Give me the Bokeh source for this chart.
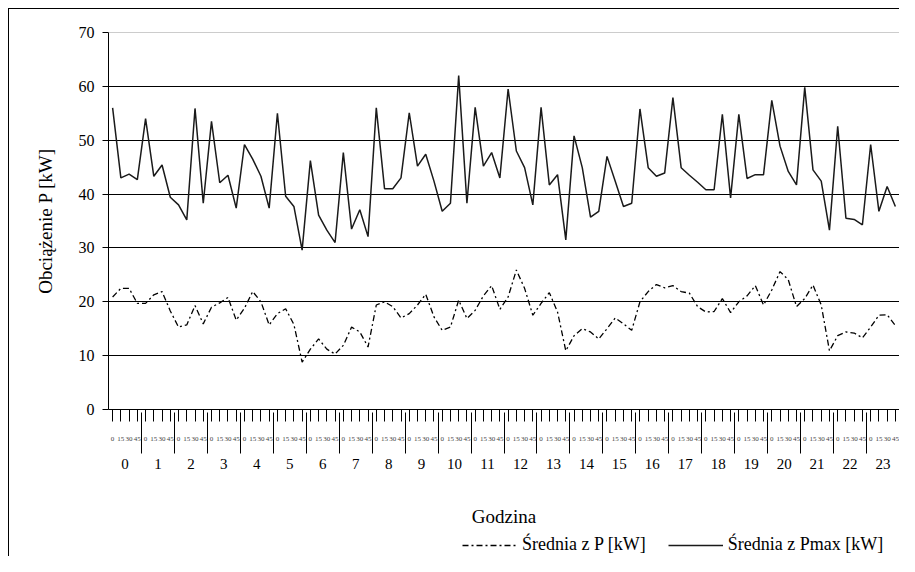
from bokeh.plotting import figure
from bokeh.layouts import column
from bokeh.models import (FactorRange, Range1d, Legend, LegendItem, FixedTicker,
                          Span, ColumnDataSource)
from bokeh.embed import file_html
from bokeh.resources import INLINE

# ---- data ----
hours = [str(h) for h in range(24)]
quarters = ["0", "15", "30", "45"]

pmax = [56.0, 43.0, 43.7, 42.7, 54.0, 43.3, 45.4, 39.4, 38.0, 35.2,
        55.9, 38.3, 53.5, 42.1, 43.5, 37.4, 49.2, 46.5, 43.3, 37.4,
        55.0, 39.6, 37.7, 29.6, 46.2, 36.1, 33.3, 31.0, 47.7, 33.5,
        37.1, 32.1, 56.0, 41.0, 41.0, 43.0, 55.1, 45.2, 47.4, 42.4,
        36.8, 38.3, 62.0, 38.3, 56.1, 45.2, 47.7, 43.0, 59.5, 48.0,
        44.9, 38.0, 56.1, 41.7, 43.6, 31.5, 50.8, 44.9, 35.7, 36.8,
        47.0, 42.4, 37.7, 38.3, 55.8, 44.9, 43.3, 43.9, 57.9, 44.9,
        43.5, 42.2, 40.8, 40.8, 54.8, 39.3, 54.8, 42.9, 43.6, 43.6,
        57.4, 48.9, 44.2, 41.7, 59.8, 44.5, 42.4, 33.3, 52.6, 35.5,
        35.3, 34.3, 49.2, 36.8, 41.4, 37.7]

p_avg = [20.9, 22.5, 22.5, 19.7, 19.7, 21.3, 21.9, 18.3, 15.3, 15.7,
         19.3, 15.9, 19.0, 19.8, 20.8, 16.6, 18.8, 21.9, 20.0, 15.7,
         17.8, 18.7, 15.8, 8.8, 11.2, 13.1, 11.2, 10.3, 11.9, 15.3,
         14.4, 11.6, 19.4, 20.0, 19.1, 17.0, 17.8, 19.4, 21.4, 17.2,
         14.7, 15.3, 20.3, 16.9, 18.4, 21.1, 23.0, 18.6, 20.9, 25.9,
         22.5, 17.5, 19.7, 21.7, 18.1, 10.9, 13.7, 15.0, 14.4, 13.1,
         15.0, 17.0, 15.9, 14.7, 20.0, 21.9, 23.2, 22.6, 23.0, 21.9,
         21.6, 19.1, 18.1, 18.2, 20.6, 18.0, 20.0, 21.1, 23.0, 19.4,
         22.2, 25.6, 24.1, 19.1, 20.6, 23.1, 19.4, 10.9, 13.7, 14.4,
         14.2, 13.3, 15.3, 17.5, 17.6, 15.6]

y_ticks = [0, 10, 20, 30, 40, 50, 60, 70]
grid_ticks = [10, 20, 30, 40, 50, 60]
y_min, y_max = 0, 70

label_p = "Średnia z P [kW]"
label_pmax = "Średnia z Pmax [kW]"
x_title = "Godzina"
y_title = "Obciążenie P [kW]"

FONT = "Liberation Serif"
DASH_P = "6 3 2 3"

factors = [(h, q) for h in hours for q in quarters]
src = ColumnDataSource(dict(x=factors, p=p_avg, pmax=pmax))
x_range = FactorRange(*factors, group_padding=0, factor_padding=0, range_padding=0)

p = figure(width=899, height=530, x_range=x_range,
           y_range=Range1d(y_min, y_max),
           output_backend="svg", toolbar_location=None,
           min_border_left=108, min_border_top=32, min_border_right=0,
           min_border_bottom=121)

p.line("x", "p", source=src, line_color="black", line_width=1.3,
       line_dash=DASH_P)
p.line("x", "pmax", source=src, line_color="#1a1a1a", line_width=1.5)

p.outline_line_color = None
p.border_fill_color = None
p.background_fill_color = None
p.xgrid.visible = False
p.ygrid.ticker = FixedTicker(ticks=grid_ticks)
p.ygrid.grid_line_color = "black"
p.ygrid.grid_line_width = 1
p.add_layout(Span(location=y_max, dimension="width", line_color="#9a9a9a",
                  line_width=1))

# y axis
ya = p.yaxis[0]
ya.ticker = FixedTicker(ticks=y_ticks)
ya.axis_line_color = "black"
ya.major_tick_out = 6
ya.major_tick_in = 0
ya.minor_tick_line_color = None
ya.major_label_text_font = FONT
ya.major_label_text_font_size = "16px"
ya.major_label_text_color = "black"
ya.major_label_standoff = 8
ya.axis_label = y_title
ya.axis_label_text_font = FONT
ya.axis_label_text_font_size = "19px"
ya.axis_label_text_font_style = "normal"
ya.axis_label_text_color = "black"
ya.axis_label_standoff = 20

# x axis
xa = p.xaxis[0]
xa.axis_line_color = "black"
xa.major_tick_out = 12
xa.major_tick_in = 0
xa.major_tick_line_color = "black"
xa.major_label_text_font = FONT
xa.major_label_text_font_size = "7px"
xa.major_label_text_color = "#444444"
xa.major_label_standoff = 15
xa.group_text_font = FONT
xa.group_text_font_size = "15px"
xa.group_text_font_style = "normal"
xa.group_text_color = "black"
xa.separator_line_color = "black"
xa.separator_line_width = 1
xa.axis_label = x_title
xa.axis_label_text_font = FONT
xa.axis_label_text_font_size = "19px"
xa.axis_label_text_font_style = "normal"
xa.axis_label_text_color = "black"
xa.axis_label_standoff = 34

# ---- legend strip below the chart (same series, drawn outside its view) ----
pl = figure(width=899, height=26, x_range=x_range, y_range=Range1d(-2, -1),
            x_axis_type=None, y_axis_type=None,
            output_backend="svg", toolbar_location=None, min_border=0)
pl.outline_line_color = None
pl.border_fill_color = None
pl.background_fill_color = None
pl.xgrid.visible = False
pl.ygrid.visible = False
lg_p = pl.line("x", "p", source=src, line_color="black", line_width=1.3,
               line_dash=DASH_P)
lg_pmax = pl.line("x", "pmax", source=src, line_color="#1a1a1a", line_width=1.5)

legend = Legend(items=[LegendItem(label=label_p, renderers=[lg_p]),
                       LegendItem(label=label_pmax, renderers=[lg_pmax])],
                orientation="horizontal", location=(354, 1),
                border_line_color=None, background_fill_alpha=0,
                label_text_font=FONT, label_text_font_size="18px",
                label_text_color="black", glyph_width=55, spacing=22,
                padding=0, margin=0, label_standoff=5)
pl.add_layout(legend, "center")

layout = column(p, pl, spacing=0)
layout.styles = {"background": ("linear-gradient(#000,#000) 8px 8px / 1px 100% no-repeat, "
                                "linear-gradient(#000,#000) 8px 8px / 100% 1px no-repeat, #fff")}

open("out.html", "w").write(file_html(layout, INLINE))
